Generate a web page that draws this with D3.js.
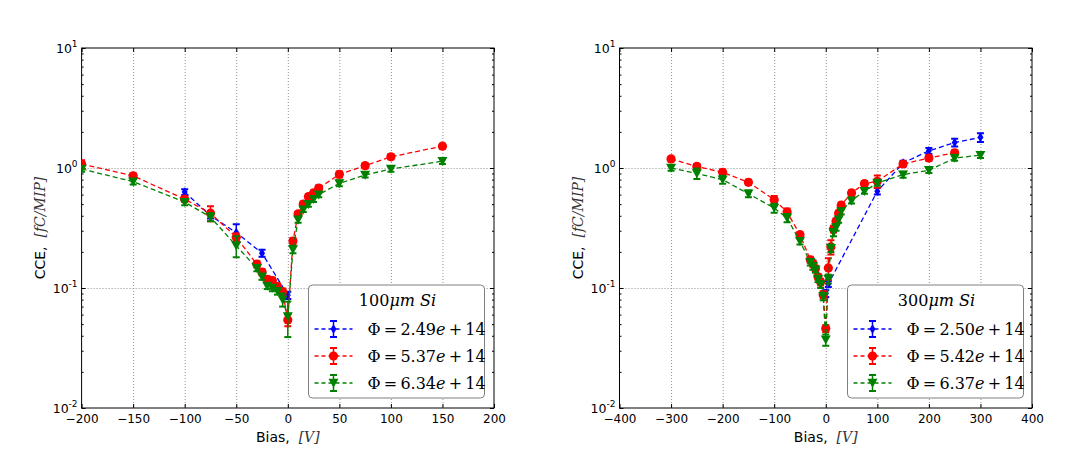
<!DOCTYPE html>
<html><head><meta charset="utf-8">
<script src="https://cdn.jsdelivr.net/npm/d3@7"></script>
<style>body{margin:0;background:#fff}svg{display:block}</style>
</head><body>
<svg id="c" width="1068" height="458"></svg>
<script>
// ---------- DATA ----------
// Left panel: 100um Si
const titleLeft = "100";
const xTicksLeft = [-200,-150,-100,-50,0,50,100,150,200];
const biasL1 = [-100,-75,-50,-25,0];
const cceL1  = [0.63,0.40,0.29,0.195,0.087];
const errL1  = [0.035,0.02,0.05,0.013,0.006];
const biasL2 = [-200,-150,-100,-75,-50,-30,-25,-20,-15,-10,-5,0,5,10,15,20,25,30,50,75,100,150];
const cceL2  = [1.08,0.86,0.55,0.42,0.265,0.158,0.136,0.118,0.115,0.103,0.093,0.054,0.246,0.414,0.50,0.577,0.62,0.68,0.885,1.045,1.24,1.52];
const errL2  = [0.08,0.04,0.03,0.06,0.02,0.01,0.008,0.007,0.007,0.006,0.006,0.006,0.015,0.02,0.025,0.03,0.03,0.035,0.05,0.05,0.06,0.07];
const biasL3 = [-200,-150,-100,-75,-50,-30,-25,-20,-15,-10,-5,0,5,10,15,20,25,30,50,75,100,150];
const cceL3  = [0.98,0.77,0.52,0.39,0.225,0.146,0.124,0.104,0.10,0.094,0.08,0.058,0.21,0.37,0.45,0.50,0.55,0.60,0.745,0.875,0.98,1.14];
const errL3  = [0.05,0.04,0.03,0.03,0.045,0.008,0.007,0.006,0.006,0.006,0.01,0.019,0.015,0.02,0.02,0.025,0.03,0.03,0.04,0.04,0.05,0.06];
const labelsLeft = ["2.49","5.37","6.34"];

// Right panel: 300um Si
const titleRight = "300";
const xTicksRight = [-400,-300,-200,-100,0,100,200,300,400];
const biasR1 = [0,5,100,150,200,250,300];
const cceR1  = [0.09,0.108,0.64,1.10,1.39,1.63,1.80];
const errR1  = [0.006,0.006,0.04,0.05,0.08,0.12,0.15];
const biasR2 = [-300,-250,-200,-150,-100,-75,-50,-30,-25,-20,-15,-10,-5,0,5,10,15,20,25,30,50,75,100,150,200,250];
const cceR2  = [1.19,1.03,0.92,0.76,0.545,0.43,0.278,0.172,0.16,0.145,0.124,0.112,0.088,0.046,0.147,0.22,0.31,0.36,0.42,0.49,0.62,0.74,0.775,1.08,1.21,1.34];
const errR2  = [0.05,0.05,0.05,0.04,0.04,0.03,0.015,0.01,0.01,0.008,0.007,0.007,0.006,0.003,0.03,0.03,0.02,0.02,0.02,0.025,0.03,0.04,0.09,0.05,0.06,0.06];
const biasR3 = [-300,-250,-200,-150,-100,-75,-50,-30,-25,-20,-15,-10,-5,0,5,10,15,20,25,30,50,75,100,150,200,250,300];
const cceR3  = [1.0,0.90,0.80,0.61,0.464,0.383,0.245,0.164,0.152,0.142,0.119,0.107,0.085,0.037,0.119,0.215,0.29,0.32,0.37,0.435,0.535,0.64,0.75,0.88,0.957,1.21,1.28];
const errR3  = [0.05,0.09,0.06,0.04,0.04,0.03,0.015,0.01,0.01,0.008,0.007,0.007,0.006,0.004,0.01,0.015,0.02,0.02,0.02,0.025,0.03,0.03,0.04,0.05,0.05,0.06,0.07];
const labelsRight = ["2.50","5.42","6.37"];

const yMajor = [0.01,0.1,1,10];
const yExp = ["-2","-1","0","1"];
const colors = ["#0000ff","#ff0000","#008000"];
const markers = ["diamond","circle","tri"];

// ---------- DRAW ----------
const svg = d3.select("#c");
const TOP = 48, BOT = 408;

function marker(g, type, color, cx, cy) {
  if (type === "circle") {
    g.append("circle").attr("cx",cx).attr("cy",cy).attr("r",4.6).attr("fill",color);
  } else if (type === "tri") {
    g.append("path").attr("d",`M${cx-5},${cy-4.2}L${cx+5},${cy-4.2}L${cx},${cy+4.8}Z`).attr("fill",color);
  } else {
    g.append("path").attr("d",`M${cx},${cy-4.8}L${cx+3},${cy}L${cx},${cy+4.8}L${cx-3},${cy}Z`).attr("fill",color);
  }
}

function errbar(g, color, cx, y1, y2) {
  g.append("line").attr("x1",cx).attr("x2",cx).attr("y1",y1).attr("y2",y2)
    .attr("stroke",color).attr("stroke-width",1.5);
  [y1,y2].forEach(yy => g.append("line").attr("x1",cx-3.5).attr("x2",cx+3.5).attr("y1",yy).attr("y2",yy)
    .attr("stroke",color).attr("stroke-width",2));
}

function panel(opts) {
  const x = d3.scaleLinear().domain(opts.xdom).range([opts.left, opts.right]);
  const y = d3.scaleLog().domain([0.01,10]).range([BOT, TOP]);
  const g = svg.append("g");

  // grid
  const grid = g.append("g").attr("stroke","#909090").attr("stroke-width",1).attr("stroke-dasharray","1,2");
  opts.xticks.slice(1,-1).forEach(v => grid.append("line").attr("x1",x(v)+0.5).attr("x2",x(v)+0.5).attr("y1",TOP).attr("y2",BOT));
  yMajor.slice(1,-1).forEach(v => grid.append("line").attr("x1",opts.left).attr("x2",opts.right).attr("y1",Math.round(y(v))+0.5).attr("y2",Math.round(y(v))+0.5));

  // axes ticks (inward)
  const xb = g.append("g").attr("transform",`translate(0,${BOT})`)
    .call(d3.axisBottom(x).tickValues(opts.xticks).tickSize(-4).tickPadding(6).tickFormat(d3.format("d")));
  xb.select(".domain").remove();
  xb.selectAll("text").attr("font-family","DejaVu Sans").attr("font-size",12).attr("fill","#000");
  const xt = g.append("g").attr("transform",`translate(0,${TOP})`)
    .call(d3.axisTop(x).tickValues(opts.xticks).tickSize(-4).tickFormat(""));
  xt.select(".domain").remove();

  const yl = g.append("g").attr("transform",`translate(${opts.left},0)`)
    .call(d3.axisLeft(y).tickValues(yMajor).tickSize(-4).tickFormat(""));
  yl.select(".domain").remove();
  const yr = g.append("g").attr("transform",`translate(${opts.right},0)`)
    .call(d3.axisRight(y).tickValues(yMajor).tickSize(-4).tickFormat(""));
  yr.select(".domain").remove();
  const minor = [];
  [0.01,0.1,1].forEach(b => { for (let k=2;k<=9;k++) minor.push(b*k); });
  const ylm = g.append("g").attr("transform",`translate(${opts.left},0)`)
    .call(d3.axisLeft(y).tickValues(minor).tickSize(-2).tickFormat(""));
  ylm.select(".domain").remove();
  const yrm = g.append("g").attr("transform",`translate(${opts.right},0)`)
    .call(d3.axisRight(y).tickValues(minor).tickSize(-2).tickFormat(""));
  yrm.select(".domain").remove();

  // y tick labels
  yMajor.forEach((v,i) => {
    const t = g.append("text").attr("x",opts.left-4).attr("y",y(v)+5)
      .attr("text-anchor","end").attr("font-family","DejaVu Sans").attr("font-size",12.5);
    t.append("tspan").text("10");
    t.append("tspan").attr("dy",-6).attr("font-size",9).text(yExp[i]);
  });

  // frame
  g.append("rect").attr("x",opts.left).attr("y",TOP).attr("width",opts.right-opts.left).attr("height",BOT-TOP)
    .attr("fill","none").attr("stroke","#000").attr("stroke-width",1);

  // axis labels
  const xlab = g.append("text").attr("x",(opts.left+opts.right)/2).attr("y",442)
    .attr("text-anchor","middle").attr("font-size",14);
  xlab.append("tspan").attr("font-family","DejaVu Sans").text("Bias,\u00a0\u00a0");
  xlab.append("tspan").attr("font-family","DejaVu Serif").attr("font-style","italic").attr("fill","#333").text("[V]");
  const ylab = g.append("text").attr("transform",`translate(${opts.left-37},228) rotate(-90)`)
    .attr("text-anchor","middle").attr("font-size",14);
  ylab.append("tspan").attr("font-family","DejaVu Sans").text("CCE,\u00a0\u00a0");
  ylab.append("tspan").attr("font-family","DejaVu Serif").attr("font-style","italic").attr("fill","#333").text("[fC/MIP]");

  // series
  const clip = "clip" + Math.round(opts.left);
  svg.append("clipPath").attr("id",clip).append("rect").attr("x",opts.left).attr("y",TOP).attr("width",opts.right-opts.left).attr("height",BOT-TOP);
  const sg = g.append("g").attr("clip-path",`url(#${clip})`);
  opts.series.forEach((s,si) => {
    const pts = s.bias.map((b,i) => ({b, v:s.cce[i], e:s.err[i]}));
    sg.append("path").datum(pts)
      .attr("d", d3.line().x(d=>x(d.b)).y(d=>y(d.v)))
      .attr("fill","none").attr("stroke",colors[si]).attr("stroke-width",1.3).attr("stroke-dasharray","5,3");
    pts.forEach(d => {
      errbar(sg, colors[si], x(d.b), y(d.v + d.e), y(Math.max(d.v - d.e, 0.011)));
      marker(sg, markers[si], colors[si], x(d.b), y(d.v));
    });
  });

  // legend
  const L = opts.legend;
  const lg = g.append("g");
  lg.append("rect").attr("x",L.x).attr("y",285).attr("width",L.w).attr("height",113).attr("rx",4)
    .attr("fill","#fff").attr("stroke","#808080").attr("stroke-width",1);
  const tt = lg.append("text").attr("x",L.x+L.w/2+1).attr("y",306).attr("text-anchor","middle")
    .attr("font-family","DejaVu Serif").attr("font-size",16);
  tt.append("tspan").text(opts.title);
  tt.append("tspan").attr("font-style","italic").text("\u03bcm\u00a0Si");
  [329,356,383].forEach((cy,i) => {
    const mx = L.x + 25;
    lg.append("line").attr("x1",mx-19).attr("x2",mx+19).attr("y1",cy).attr("y2",cy)
      .attr("stroke",colors[i]).attr("stroke-width",1.3).attr("stroke-dasharray","4,3");
    errbar(lg, colors[i], mx, cy-8, cy+8);
    marker(lg, markers[i], colors[i], mx, cy);
    const t = lg.append("text").attr("x",L.x+59).attr("y",cy+6)
      .attr("font-family","DejaVu Serif").attr("font-size",16);
    t.append("tspan").text("\u03a6\u2009=\u2009" + opts.labels[i]);
    t.append("tspan").attr("font-style","italic").text("e");
    t.append("tspan").text("\u2009+\u200914");
  });
}

panel({left:81.6, right:494, xdom:[-200,200], xticks:xTicksLeft, title:titleLeft, labels:labelsLeft,
  legend:{x:308.5, w:176},
  series:[{bias:biasL1,cce:cceL1,err:errL1},{bias:biasL2,cce:cceL2,err:errL2},{bias:biasL3,cce:cceL3,err:errL3}]});
panel({left:619.5, right:1032, xdom:[-400,400], xticks:xTicksRight, title:titleRight, labels:labelsRight,
  legend:{x:847.5, w:176},
  series:[{bias:biasR1,cce:cceR1,err:errR1},{bias:biasR2,cce:cceR2,err:errR2},{bias:biasR3,cce:cceR3,err:errR3}]});
</script>
</body></html>
